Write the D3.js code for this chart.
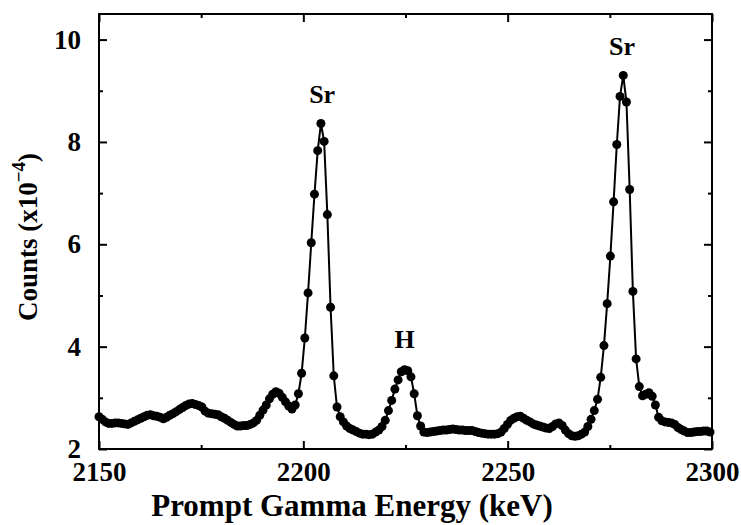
<!DOCTYPE html>
<html>
<head>
<meta charset="utf-8">
<script src="https://cdn.jsdelivr.net/npm/d3@7"></script>
<style>
  body { margin: 0; background: #fff; }
  svg text { font-family: "Liberation Serif", "Times New Roman", serif; font-weight: bold; fill: #000; }
  .axis path { display: none; }
  .axis line { stroke: #000; stroke-width: 2; }
</style>
</head>
<body>
<svg id="chart" width="741" height="525"></svg>
<script>
// spectrum channels: energy of channel i = startEnergy + i * channelWidth
const startEnergy = 2150;
const channelWidth = 0.787;
const counts = [
  2.63, 2.58, 2.53, 2.50, 2.50, 2.51, 2.51, 2.50, 2.49, 2.48,
  2.51, 2.54, 2.57, 2.60, 2.63, 2.66, 2.67, 2.65, 2.64, 2.62,
  2.59, 2.62, 2.66, 2.69, 2.73, 2.77, 2.81, 2.85, 2.88, 2.89,
  2.87, 2.85, 2.82, 2.74, 2.70, 2.69, 2.68, 2.67, 2.63, 2.60,
  2.56, 2.52, 2.48, 2.45, 2.45, 2.46, 2.46, 2.48, 2.51, 2.56,
  2.66, 2.76, 2.86, 2.98, 3.07, 3.12, 3.09, 3.01, 2.92, 2.84,
  2.78, 2.86, 3.08, 3.48, 4.17, 5.05, 6.03, 6.98, 7.83, 8.36,
  8.01, 6.58, 4.77, 3.43, 2.82, 2.63, 2.53, 2.45, 2.40, 2.37,
  2.34, 2.31, 2.29, 2.29, 2.28, 2.29, 2.33, 2.37, 2.44, 2.56,
  2.75, 2.95, 3.17, 3.35, 3.51, 3.55, 3.53, 3.41, 3.08, 2.65,
  2.45, 2.33, 2.32, 2.33, 2.34, 2.35, 2.36, 2.37, 2.37, 2.38,
  2.39, 2.38, 2.37, 2.37, 2.36, 2.36, 2.36, 2.34, 2.32, 2.31,
  2.30, 2.29, 2.29, 2.29, 2.30, 2.33, 2.40, 2.48, 2.56, 2.60,
  2.63, 2.64, 2.60, 2.56, 2.53, 2.49, 2.47, 2.45, 2.43, 2.41,
  2.40, 2.44, 2.49, 2.51, 2.46, 2.37, 2.30, 2.26, 2.25, 2.26,
  2.29, 2.33, 2.44, 2.58, 2.75, 2.97, 3.40, 4.02, 4.84, 5.77,
  6.83, 7.95, 8.89, 9.30, 8.78, 7.07, 5.08, 3.76, 3.22, 3.04,
  3.07, 3.10, 3.03, 2.86, 2.62, 2.55, 2.53, 2.52, 2.51, 2.48,
  2.42, 2.38, 2.35, 2.32, 2.32, 2.33, 2.34, 2.34, 2.35, 2.35,
  2.33
];

const xMajorTicks = [2150, 2200, 2250, 2300];
const xMinorTicks = [2175, 2225, 2275];
const yMajorTicks = [2, 4, 6, 8, 10];
const yMinorTicks = [3, 5, 7, 9];

const peakLabels = ['Sr', 'H', 'Sr'];
const peakEnergies = [2204.6, 2224.8, 2278.0];
const peakLabelCounts = [8.76, 3.98, 9.70];

const svg = d3.select('#chart');
const margin = { top: 14, right: 29, bottom: 76, left: 99 };
const width = 741 - margin.left - margin.right;
const height = 525 - margin.top - margin.bottom;

const chart = svg.append('g')
  .attr('transform', `translate(${margin.left}, ${margin.top})`);

const xScale = d3.scaleLinear().domain([2150, 2300]).range([0, width]);
const yScale = d3.scaleLinear().domain([2, 10.5]).range([height, 0]);

const points = counts.map((c, i) => ({ e: startEnergy + i * channelWidth, c: c }));

// inward ticks on all four sides
chart.append('g').attr('class', 'axis axis-x')
  .attr('transform', `translate(0, ${height})`)
  .call(d3.axisBottom(xScale).tickValues(xMajorTicks).tickSize(-8).tickPadding(13).tickFormat(d3.format('d')))
  .selectAll('text').style('font-size', '27px');
chart.append('g').attr('class', 'axis')
  .attr('transform', `translate(0, ${height})`)
  .call(d3.axisBottom(xScale).tickValues(xMinorTicks).tickSize(-4).tickFormat(''));
chart.append('g').attr('class', 'axis')
  .call(d3.axisTop(xScale).tickValues(xMajorTicks).tickSize(-8).tickFormat(''));
chart.append('g').attr('class', 'axis')
  .call(d3.axisTop(xScale).tickValues(xMinorTicks).tickSize(-4).tickFormat(''));

chart.append('g').attr('class', 'axis axis-y')
  .call(d3.axisLeft(yScale).tickValues(yMajorTicks).tickSize(-8).tickPadding(18))
  .selectAll('text').style('font-size', '27px');
chart.append('g').attr('class', 'axis')
  .call(d3.axisLeft(yScale).tickValues(yMinorTicks).tickSize(-4).tickFormat(''));
chart.append('g').attr('class', 'axis')
  .attr('transform', `translate(${width}, 0)`)
  .call(d3.axisRight(yScale).tickValues(yMajorTicks).tickSize(-8).tickFormat(''));
chart.append('g').attr('class', 'axis')
  .attr('transform', `translate(${width}, 0)`)
  .call(d3.axisRight(yScale).tickValues(yMinorTicks).tickSize(-4).tickFormat(''));

// frame
chart.append('rect')
  .attr('width', width)
  .attr('height', height)
  .attr('fill', 'none')
  .attr('stroke', '#000')
  .attr('stroke-width', 2);

const line = d3.line()
  .x(d => xScale(d.e))
  .y(d => yScale(d.c));

chart.append('path')
  .datum(points)
  .attr('fill', 'none')
  .attr('stroke', '#000')
  .attr('stroke-width', 2)
  .attr('d', line);

chart.selectAll('.dot')
  .data(points)
  .enter()
  .append('circle')
  .attr('class', 'dot')
  .attr('cx', d => xScale(d.e))
  .attr('cy', d => yScale(d.c))
  .attr('r', 4.5)
  .attr('fill', '#000');

// peak annotations
chart.selectAll('.peak-label')
  .data(peakLabels)
  .enter()
  .append('text')
  .attr('class', 'peak-label')
  .attr('x', (d, i) => xScale(peakEnergies[i]))
  .attr('y', (d, i) => yScale(peakLabelCounts[i]))
  .attr('text-anchor', 'middle')
  .style('font-size', '26px')
  .text(d => d);

// axis titles
svg.append('text')
  .attr('x', 352)
  .attr('y', 516)
  .attr('text-anchor', 'middle')
  .style('font-size', '31px')
  .text('Prompt Gamma Energy (keV)');

const yTitle = svg.append('text')
  .attr('transform', 'translate(37, 237) rotate(-90)')
  .attr('text-anchor', 'middle')
  .style('font-size', '27px');
yTitle.append('tspan').text('Counts (x10');
yTitle.append('tspan').attr('dy', -12).style('font-size', '19px').text('\u22124');
yTitle.append('tspan').attr('dy', 12).text(')');
</script>
</body>
</html>
